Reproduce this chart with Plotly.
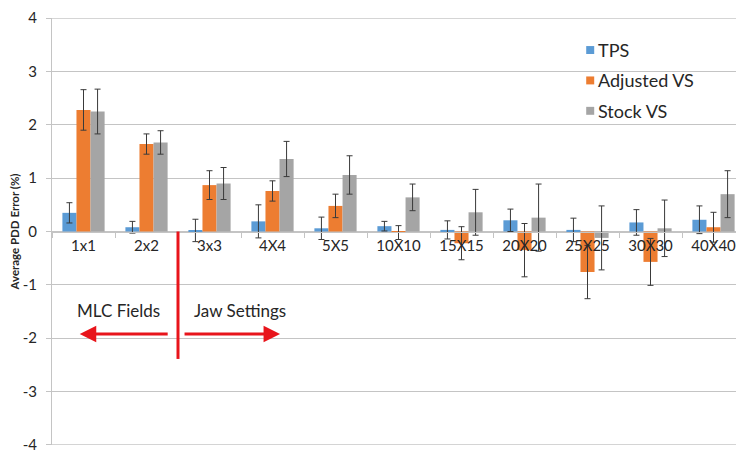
import plotly.graph_objects as go

# Field sizes (MLC fields first, then jaw settings)
categories = ["1x1", "2x2", "3x3", "4X4", "5X5", "10X10", "15X15",
              "20X20", "25X25", "30X30", "40X40"]

# Average PDD error (%) and its standard deviation per series
tps = [0.35, 0.08, 0.02, 0.19, 0.06, 0.10, 0.03, 0.21, 0.03, 0.17, 0.22]
tps_err = [0.19, 0.11, 0.21, 0.31, 0.21, 0.09, 0.17, 0.21, 0.22, 0.24, 0.26]

adjusted_vs = [2.28, 1.64, 0.87, 0.76, 0.48, -0.02, -0.22, -0.35, -0.76, -0.57, 0.08]
adjusted_err = [0.38, 0.19, 0.27, 0.19, 0.22, 0.13, 0.31, 0.50, 0.50, 0.44, 0.28]

stock_vs = [2.25, 1.67, 0.90, 1.36, 1.06, 0.64, 0.36, 0.26, -0.12, 0.06, 0.70]
stock_err = [0.42, 0.22, 0.30, 0.33, 0.36, 0.25, 0.43, 0.63, 0.60, 0.53, 0.44]

y_ticks = [4, 3, 2, 1, 0, -1, -2, -3, -4]

FONT = "Lato"
TEXT = "#262626"
GRID = "#c4c4c4"
ERR = "#3a3a3a"

series = [
    ("TPS", tps, tps_err, "#5B9BD5"),
    ("Adjusted VS", adjusted_vs, adjusted_err, "#ED7D31"),
    ("Stock VS", stock_vs, stock_err, "#A5A5A5"),
]

fig = go.Figure()
for name, vals, errs, color in series:
    fig.add_trace(go.Bar(
        x=categories, y=vals, name=name, showlegend=False,
        marker=dict(color=color, line=dict(width=0)),
        error_y=dict(type="data", array=errs, visible=True,
                     color=ERR, thickness=1, width=3),
    ))

# Gridlines at both ends of the value range
for yv in (y_ticks[0], y_ticks[-1]):
    fig.add_shape(type="line", xref="paper", yref="y", x0=0, x1=1, y0=yv, y1=yv,
                  line=dict(color=GRID, width=1), layer="below")

# Compact legend: small colour square followed by the series name
legend_x = 0.781
legend_y0 = 0.925
legend_step = 0.0712
for i, (name, _, _, color) in enumerate(series):
    yc = legend_y0 - i * legend_step
    fig.add_shape(type="rect", xref="paper", yref="paper",
                  x0=legend_x, x1=legend_x + 0.0117,
                  y0=yc - 0.0093, y1=yc + 0.0093,
                  fillcolor=color, line=dict(width=0))
    fig.add_annotation(xref="paper", yref="paper", x=legend_x + 0.0145, y=yc,
                       xanchor="left", yanchor="middle", text=name,
                       showarrow=False,
                       font=dict(family=FONT, size=18, color=TEXT))

# Divider between MLC fields and jaw settings, with direction arrows
RED = "#E8141B"
fig.add_shape(type="line", xref="x", yref="y", x0=1.5, x1=1.5, y0=0, y1=-2.39,
              line=dict(color=RED, width=3))
fig.add_annotation(xref="x", yref="y", axref="x", ayref="y",
                   x=-0.06, y=-1.92, ax=1.36, ay=-1.92, text="",
                   showarrow=True, arrowhead=2, arrowsize=1.1, arrowwidth=3,
                   arrowcolor=RED)
fig.add_annotation(xref="x", yref="y", axref="x", ayref="y",
                   x=3.12, y=-1.92, ax=1.58, ay=-1.92, text="",
                   showarrow=True, arrowhead=2, arrowsize=1.1, arrowwidth=3,
                   arrowcolor=RED)
fig.add_annotation(xref="x", yref="y", x=0.56, y=-1.49, text="MLC Fields",
                   showarrow=False, font=dict(family=FONT, size=17, color=TEXT))
fig.add_annotation(xref="x", yref="y", x=2.48, y=-1.49, text="Jaw Settings",
                   showarrow=False, font=dict(family=FONT, size=17, color=TEXT))

fig.update_layout(
    width=736, height=453,
    margin=dict(l=52, r=0, t=18, b=5),
    paper_bgcolor="white", plot_bgcolor="white",
    barmode="group", bargap=0.33, bargroupgap=0,
    font=dict(family=FONT, color=TEXT),
    showlegend=False,
    xaxis=dict(
        type="category", range=[-0.5, 10.357],
        anchor="free", position=0.5,
        showline=True, linecolor=GRID, linewidth=1,
        ticks="outside", tickson="boundaries", ticklen=5, tickcolor=GRID,
        showgrid=False, tickfont=dict(family=FONT, size=15, color=TEXT),
    ),
    yaxis=dict(
        range=[-4.004, 4.004], tickvals=y_ticks, ticktext=[str(v) for v in y_ticks],
        showgrid=True, gridcolor=GRID, gridwidth=1, zeroline=False,
        showline=True, linecolor=GRID, linewidth=1,
        ticks="outside", ticklen=5, tickcolor=GRID,
        ticklabeloverflow="allow", ticklabelstandoff=6,
        tickfont=dict(family=FONT, size=15, color=TEXT),
        title=dict(text="Average PDD Error (%)", standoff=0,
                   font=dict(family=FONT, size=11.5, color=TEXT, weight="bold")),
    ),
)

fig.write_html("out.html")
